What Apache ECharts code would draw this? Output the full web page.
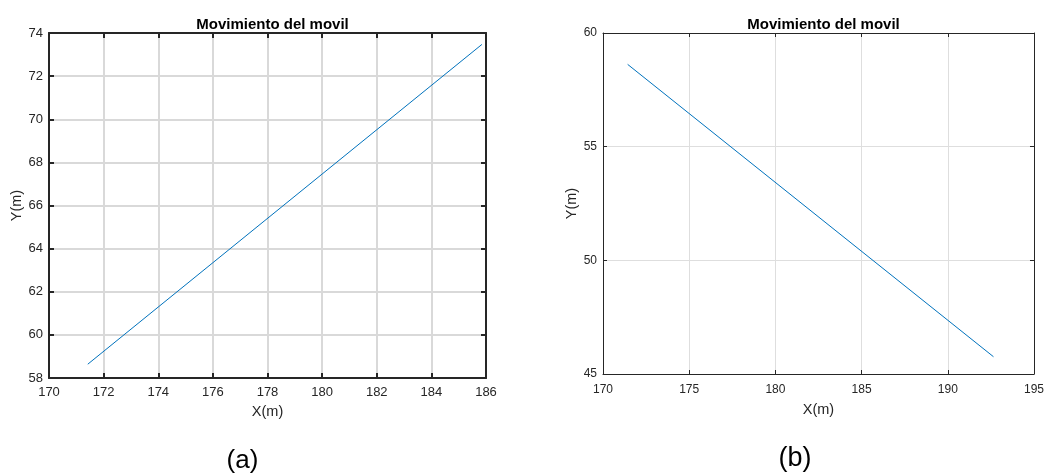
<!DOCTYPE html>
<html>
<head>
<meta charset="utf-8">
<script src="https://cdn.jsdelivr.net/npm/echarts@6/dist/echarts.min.js"></script>
<style>html,body{margin:0;padding:0;background:#fff;}#c{width:1047px;height:474px;}</style>
</head>
<body>
<div id="c"></div>
<script>
// Data
const titleText = 'Movimiento del movil';
const xNameA = 'X(m)', yNameA = 'Y(m)';
const lineA_x = [171.42, 185.85];
const lineA_y = [58.64, 73.47];
const lineB_x = [171.43, 192.65];
const lineB_y = [58.62, 45.76];
const axisA = {xmin: 170, xmax: 186, xstep: 2, ymin: 58, ymax: 74, ystep: 2};
const axisB = {xmin: 170, xmax: 195, xstep: 5, ymin: 45, ymax: 60, ystep: 5};
const panelLabels = ['(a)', '(b)'];

const FONT = '"Liberation Sans", Arial, sans-serif';
const TXT = '#262626';

function pairs(xs, ys) { return xs.map((x, i) => [x, ys[i]]); }

function xAxes(gi, ax, thick) {
  const main = {
    type: 'value', gridIndex: gi, min: ax.xmin, max: ax.xmax, interval: ax.xstep,
    position: 'bottom',
    name: xNameA, nameLocation: 'middle', nameGap: gi === 0 ? 26 : 28,
    nameTextStyle: {color: TXT, fontSize: 14.5, fontFamily: FONT},
    axisLine: {show: true, onZero: false, lineStyle: {color: TXT, width: thick ? 2 : 1}},
    axisTick: {show: true, inside: true, length: thick ? 5 : 4, lineStyle: {color: TXT, width: thick ? 2 : 1}},
    axisLabel: {color: TXT, fontSize: thick ? 13 : 12, fontFamily: FONT, margin: gi === 0 ? 8 : 10, showMinLabel: true, showMaxLabel: true},
    splitLine: {show: true, lineStyle: {color: thick ? '#d9d9d9' : '#dedede', width: thick ? 2 : 1}}
  };
  const top = {
    type: 'value', gridIndex: gi, min: ax.xmin, max: ax.xmax, interval: ax.xstep,
    position: 'top',
    axisLine: {show: true, onZero: false, lineStyle: {color: TXT, width: thick ? 2 : 1}},
    axisTick: {show: true, inside: true, length: thick ? 5 : 4, lineStyle: {color: TXT, width: thick ? 2 : 1}},
    axisLabel: {show: false}, splitLine: {show: false}
  };
  return [main, top];
}
function yAxes(gi, ax, thick) {
  const main = {
    type: 'value', gridIndex: gi, min: ax.ymin, max: ax.ymax, interval: ax.ystep,
    position: 'left',
    name: yNameA, nameLocation: 'middle', nameGap: gi === 0 ? 25 : 24, nameRotate: 90,
    nameTextStyle: {color: TXT, fontSize: 14.5, fontFamily: FONT},
    axisLine: {show: true, onZero: false, lineStyle: {color: TXT, width: thick ? 2 : 1}},
    axisTick: {show: true, inside: true, length: thick ? 5 : 4, lineStyle: {color: TXT, width: thick ? 2 : 1}},
    axisLabel: {color: TXT, fontSize: thick ? 13 : 12, fontFamily: FONT, margin: 6, showMinLabel: true, showMaxLabel: true},
    splitLine: {show: true, lineStyle: {color: thick ? '#d9d9d9' : '#dedede', width: thick ? 2 : 1}}
  };
  const right = {
    type: 'value', gridIndex: gi, min: ax.ymin, max: ax.ymax, interval: ax.ystep,
    position: 'right',
    axisLine: {show: true, onZero: false, lineStyle: {color: TXT, width: thick ? 2 : 1}},
    axisTick: {show: true, inside: true, length: thick ? 5 : 4, lineStyle: {color: TXT, width: thick ? 2 : 1}},
    axisLabel: {show: false}, splitLine: {show: false}
  };
  return [main, right];
}

const chart = echarts.init(document.getElementById('c'), null, {renderer: 'canvas'});
chart.setOption({
  animation: false,
  backgroundColor: '#ffffff',
  title: [
    {text: titleText, left: 267.5, top: 12, textAlign: 'center',
     textStyle: {fontSize: 15, fontWeight: 'bold', color: '#000', fontFamily: FONT}},
    {text: titleText, left: 818.5, top: 12, textAlign: 'center',
     textStyle: {fontSize: 15, fontWeight: 'bold', color: '#000', fontFamily: FONT}},
    {text: panelLabels[0], left: 237.5, top: 443, textAlign: 'center',
     textStyle: {fontSize: 26, fontWeight: 'normal', color: '#000', fontFamily: FONT}},
    {text: panelLabels[1], left: 790, top: 440, textAlign: 'center',
     textStyle: {fontSize: 27, fontWeight: 'normal', color: '#000', fontFamily: FONT}}
  ],
  grid: [
    {left: 49, top: 33, width: 437, height: 345},
    {left: 603, top: 33, width: 433, height: 341}
  ],
  xAxis: [...xAxes(0, axisA, true), ...xAxes(1, axisB, false)],
  yAxis: [...yAxes(0, axisA, true), ...yAxes(1, axisB, false)],
  series: [
    {type: 'line', xAxisIndex: 0, yAxisIndex: 0, data: pairs(lineA_x, lineA_y),
     showSymbol: false, lineStyle: {color: '#0072BD', width: 1}},
    {type: 'line', xAxisIndex: 2, yAxisIndex: 2, data: pairs(lineB_x, lineB_y),
     showSymbol: false, lineStyle: {color: '#0072BD', width: 1}}
  ]
});
</script>
</body>
</html>
